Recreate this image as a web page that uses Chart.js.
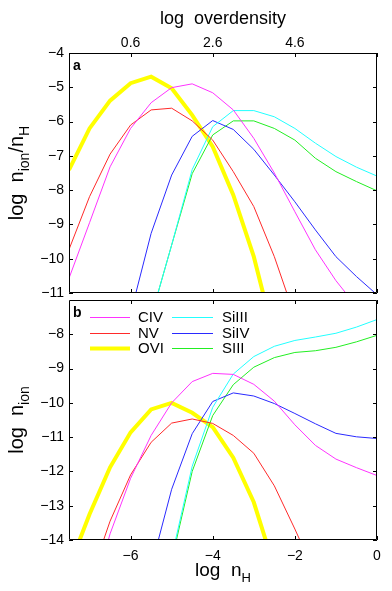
<!DOCTYPE html>
<html>
<head>
<meta charset="utf-8">
<script src="https://cdn.jsdelivr.net/npm/chart.js@4"></script>
<style>
  html, body { margin: 0; padding: 0; background: #fff; }
  #wrap { position: relative; width: 392px; height: 591px; }
  canvas { position: absolute; left: 0; top: 0; }
</style>
</head>
<body>
<div id="wrap">
  <canvas id="topChart" width="392" height="591"></canvas>
  <canvas id="bottomChart" width="392" height="591"></canvas>
</div>
<script>
// x grid: log n_H
const logNH = [-7.5, -7, -6.5, -6, -5.5, -5, -4.5, -4, -3.5, -3, -2.5, -2, -1.5, -1, -0.5, 0];

// panel a: log n_ion / n_H
const civFrac  = [-10.57, -8.95, -7.32, -6.20, -5.45, -5.01, -4.90, -5.16, -5.66, -6.49, -7.50, -8.63, -9.74, -10.64, -11.39, -12.12];
const nvFrac   = [-9.73, -8.19, -6.95, -6.10, -5.66, -5.61, -5.98, -6.54, -7.46, -8.48, -9.94, -11.68, -13.5, null, null, null];
const oviFrac  = [-7.41, -6.20, -5.39, -4.88, -4.69, -5.03, -5.81, -6.73, -8.14, -9.94, -12.3, null, null, null, null, null];
const siiiFrac = [null, null, null, null, -11.7, -9.6, -7.40, -6.15, -5.68, -5.68, -5.86, -6.20, -6.63, -7.02, -7.33, -7.59];
const sivFrac  = [null, null, null, -11.6, -9.26, -7.56, -6.43, -5.97, -6.23, -6.81, -7.56, -8.34, -9.16, -9.94, -10.52, -11.05];
const s3Frac   = [null, null, null, null, -11.7, -9.6, -7.52, -6.39, -5.98, -5.98, -6.20, -6.54, -7.07, -7.46, -7.75, -8.02];

// panel b: log n_ion
const civDens  = [-18.1, -15.95, -13.82, -12.2, -10.95, -10.0, -9.38, -9.14, -9.17, -9.46, -9.95, -10.64, -11.24, -11.64, -11.89, -12.12];
const nvDens   = [-17.2, -15.19, -13.45, -12.10, -11.15, -10.59, -10.47, -10.6, -10.95, -11.47, -12.42, -13.68, -15.0, null, null, null];
const oviDens  = [-14.8, -13.25, -11.88, -10.86, -10.19, -10.0, -10.29, -10.71, -11.6, -12.9, -14.8, null, null, null, null, null];
const siiiDens = [null, null, null, null, -17.2, -14.5, -11.85, -10.13, -9.16, -8.65, -8.35, -8.18, -8.08, -7.97, -7.79, -7.57];
const sivDens  = [null, null, null, -17.6, -14.8, -12.52, -10.9, -9.96, -9.71, -9.8, -10.02, -10.31, -10.61, -10.89, -10.99, -11.04];
const s3Dens   = [null, null, null, null, -17.2, -14.6, -12.0, -10.37, -9.47, -8.96, -8.68, -8.53, -8.48, -8.38, -8.22, -8.03];

const ionNames = ["CIV", "NV", "OVI", "SiIII", "SiIV", "SIII"];
const ionColors = ["#ff33ff", "#ff2a2a", "#ffff00", "#22ffff", "#2a2aff", "#22ee22"];
const ionWidths = [1, 1, 4, 1, 1, 1];

const xTicks = [-6, -4, -2, 0];
const overdensityTicks = [0.6, 2.6, 4.6];
const overdensityOffset = 6.6;
const yTicksTop = [-11, -10, -9, -8, -7, -6, -5, -4];
const yTicksBottom = [-14, -13, -12, -11, -10, -9, -8];

const FONT = "'Liberation Sans', Arial, Helvetica, sans-serif";

function makeDatasets(seriesList) {
  return seriesList.map((vals, i) => ({
    label: ionNames[i],
    data: logNH.map((x, j) => ({ x: x, y: vals[j] })),
    borderColor: ionColors[i],
    borderWidth: ionWidths[i],
    pointRadius: 0,
    tension: 0,
    fill: false,
    spanGaps: false,
    order: ionNames[i] === "OVI" ? 10 : 0
  }));
}

function minusFmt(v) {
  return String(v).replace("-", "\u2212");
}

// draw a label made of normal and subscript pieces, centred on (cx, cy)
function drawSubText(ctx, parts, cx, cy, size, rotate) {
  const subSize = Math.round(size * 0.7);
  ctx.save();
  ctx.translate(cx, cy);
  if (rotate) ctx.rotate(-Math.PI / 2);
  let total = 0;
  parts.forEach(p => {
    ctx.font = (p.sub ? subSize : size) + "px " + FONT;
    p.w = ctx.measureText(p.t).width;
    total += p.w;
  });
  let x = -total / 2;
  ctx.fillStyle = "#000";
  ctx.textBaseline = "alphabetic";
  ctx.textAlign = "left";
  parts.forEach(p => {
    ctx.font = (p.sub ? subSize : size) + "px " + FONT;
    ctx.fillText(p.t, x, p.sub ? size * 0.3 : 0);
    x += p.w;
  });
  ctx.restore();
}

const panelDecor = {
  id: "panelDecor",
  afterDraw(chart, args, opts) {
    const ctx = chart.ctx;
    const a = chart.chartArea;
    const xs = chart.scales.x;
    const ys = chart.scales.y;
    ctx.save();
    ctx.strokeStyle = "#000";
    ctx.lineWidth = 1;
    ctx.beginPath();
    ctx.rect(a.left + 0.5, a.top + 0.5, a.right - a.left - 1, a.bottom - a.top - 1);
    ctx.stroke();
    // inward ticks
    const tl = 4;
    ctx.beginPath();
    opts.yTicks.forEach(v => {
      const py = Math.round(ys.getPixelForValue(v)) + 0.5;
      ctx.moveTo(a.left, py); ctx.lineTo(a.left + tl, py);
      ctx.moveTo(a.right, py); ctx.lineTo(a.right - tl, py);
    });
    xTicks.forEach(v => {
      const px = Math.round(xs.getPixelForValue(v)) + 0.5;
      ctx.moveTo(px, a.bottom); ctx.lineTo(px, a.bottom - tl);
      ctx.moveTo(px, a.top); ctx.lineTo(px, a.top + tl);
    });
    ctx.stroke();

    // panel letter
    ctx.fillStyle = "#000";
    ctx.font = "bold 14px " + FONT;
    ctx.textAlign = "left";
    ctx.textBaseline = "alphabetic";
    ctx.fillText(opts.letter, a.left + 4, a.top + 17);

    // axis titles
    const midY = (a.top + a.bottom) / 2;
    const midX = (a.left + a.right) / 2;
    drawSubText(ctx, opts.yTitle, 23, midY, 20, true);
    if (opts.xTitle) drawSubText(ctx, opts.xTitle, midX, 576, 19, false);
    if (opts.topTitle) drawSubText(ctx, opts.topTitle, midX, 24, 18, false);

    // legend, two columns of three
    if (opts.legend) {
      const rows = [317, 333, 348];
      const cols = [{ x0: 90, x1: 130, tx: 138 }, { x0: 172, x1: 213, tx: 222 }];
      chart.data.datasets.forEach((ds, i) => {
        const c = cols[Math.floor(i / 3)];
        const y = rows[i % 3];
        ctx.strokeStyle = ds.borderColor;
        ctx.lineWidth = ds.borderWidth;
        ctx.beginPath();
        ctx.moveTo(c.x0, y + 0.5);
        ctx.lineTo(c.x1, y + 0.5);
        ctx.stroke();
        ctx.fillStyle = "#000";
        ctx.font = "15px " + FONT;
        ctx.textBaseline = "middle";
        ctx.fillText(ds.label, c.tx, y + 1);
      });
    }
    ctx.restore();
  }
};

const yTickFont = { family: FONT, size: 14 };

function yScale(min, max, ticks) {
  return {
    type: "linear",
    min: min,
    max: max,
    grid: { display: false, drawTicks: false },
    border: { display: false },
    ticks: { padding: 5, color: "#000", font: yTickFont, callback: v => minusFmt(v) },
    afterBuildTicks: s => { s.ticks = ticks.map(v => ({ value: v })); },
    afterFit: s => { s.width = 69; }
  };
}

new Chart(document.getElementById("topChart"), {
  type: "line",
  data: { datasets: makeDatasets([civFrac, nvFrac, oviFrac, siiiFrac, sivFrac, s3Frac]) },
  options: {
    responsive: false,
    animation: false,
    events: [],
    layout: { padding: { left: 0, right: 15, top: 0, bottom: 298 } },
    plugins: {
      legend: { display: false },
      tooltip: { enabled: false },
      panelDecor: {
        letter: "a",
        yTicks: yTicksTop,
        yTitle: [{ t: "log  n" }, { t: "ion", sub: true }, { t: "/n" }, { t: "H", sub: true }],
        topTitle: [{ t: "log  overdensity" }]
      }
    },
    scales: {
      x: { type: "linear", min: -7.5, max: 0, display: false },
      x2: {
        type: "linear",
        position: "top",
        min: -7.5 + overdensityOffset,
        max: 0 + overdensityOffset,
        grid: { display: false, drawTicks: false },
        border: { display: false },
        ticks: { padding: 1, color: "#000", font: yTickFont, callback: v => v.toFixed(1) },
        afterBuildTicks: s => { s.ticks = overdensityTicks.map(v => ({ value: v })); },
        afterFit: s => { s.height = 53; }
      },
      y: yScale(-11, -4, yTicksTop)
    }
  },
  plugins: [panelDecor]
});

new Chart(document.getElementById("bottomChart"), {
  type: "line",
  data: { datasets: makeDatasets([civDens, nvDens, oviDens, siiiDens, sivDens, s3Dens]) },
  options: {
    responsive: false,
    animation: false,
    events: [],
    layout: { padding: { left: 0, right: 15, top: 300, bottom: 0 } },
    plugins: {
      legend: { display: false },
      tooltip: { enabled: false },
      panelDecor: {
        letter: "b",
        yTicks: yTicksBottom,
        yTitle: [{ t: "log  n" }, { t: "ion", sub: true }],
        xTitle: [{ t: "log  n" }, { t: "H", sub: true }],
        legend: true
      }
    },
    scales: {
      x: {
        type: "linear",
        min: -7.5,
        max: 0,
        grid: { display: false, drawTicks: false },
        border: { display: false },
        ticks: { padding: 8, color: "#000", font: yTickFont, callback: v => minusFmt(v) },
        afterBuildTicks: s => { s.ticks = xTicks.map(v => ({ value: v })); },
        afterFit: s => { s.height = 51; }
      },
      y: yScale(-14, -7, yTicksBottom)
    }
  },
  plugins: [panelDecor]
});
</script>
</body>
</html>
